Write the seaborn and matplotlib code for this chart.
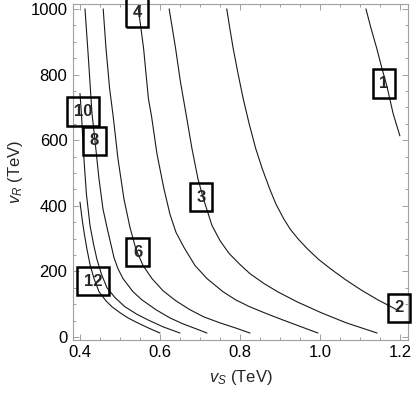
import numpy as np
import pandas as pd
import seaborn as sns
import matplotlib.pyplot as plt
from matplotlib.ticker import MultipleLocator

# Contour levels and the points (vS in TeV, vR in TeV)
levels = [1, 2, 3, 4, 6, 8, 10, 12]

vs_1 = [1.115, 1.1275, 1.142, 1.155, 1.167, 1.183, 1.2]
vr_1 = [1000, 942, 880, 819, 767, 681, 613]

vs_2 = [0.767, 0.7745, 0.783, 0.795, 0.808, 0.823, 0.8395, 0.856, 0.8745, 0.890,
        0.910, 0.926, 0.946, 0.970, 0.997, 1.0285, 1.0635, 1.102, 1.145, 1.2]
vr_2 = [1000, 942, 880, 804, 727, 650, 574, 512, 451, 405,
        359, 328, 298, 267, 236, 206, 175, 144, 113, 78]

vs_3 = [0.623, 0.639, 0.651, 0.665, 0.68, 0.695, 0.709, 0.73, 0.75, 0.7725, 0.8,
        0.825, 0.86, 0.894, 0.943, 1.003, 1.066, 1.143]
vr_3 = [1000, 880, 779, 681, 574, 482, 420, 340, 294, 255, 221,
        193, 163, 138, 107, 74, 43, 12]

vs_4 = [0.546, 0.559, 0.571, 0.579, 0.5925, 0.61, 0.625, 0.64, 0.66, 0.6875,
        0.7175, 0.7575, 0.7895, 0.8245, 0.8665, 0.907, 0.995]
vr_4 = [1000, 880, 727, 672, 558, 451, 374, 319, 273, 218,
        178, 138, 113, 92, 71, 52, 12]

vs_6 = [0.458, 0.465, 0.474, 0.483, 0.495, 0.51, 0.525, 0.54, 0.5575, 0.58,
        0.6075, 0.64, 0.675, 0.71, 0.75, 0.79, 0.825]
vr_6 = [1000, 880, 758, 672, 543, 420, 334, 267, 218, 178,
        141, 110, 83, 61, 43, 27, 12]

vs_8 = [0.4125, 0.421, 0.43, 0.4375, 0.4475, 0.4575, 0.4675, 0.485, 0.495, 0.5075,
        0.5325, 0.555, 0.59, 0.625, 0.6575, 0.69, 0.7175]
vr_8 = [1000, 850, 681, 598, 482, 390, 334, 242, 208, 178,
        138, 113, 83, 58, 40, 25, 12]

vs_10 = [0.4, 0.404, 0.409, 0.416, 0.425, 0.434, 0.4425, 0.454, 0.4675, 0.4875,
         0.5125, 0.5425, 0.57, 0.6075, 0.65]
vr_10 = [742, 672, 558, 436, 340, 282, 236, 190, 150, 120,
         92, 69, 52, 31, 12]

vs_12 = [0.4, 0.406, 0.411, 0.4175, 0.425, 0.435, 0.4475, 0.465, 0.48, 0.5,
         0.52, 0.5425, 0.57, 0.6]
vr_12 = [411, 353, 313, 267, 221, 178, 138, 110, 92, 74,
         58, 44, 28, 12]

# Label positions (data coordinates)
label_vs = [1.16, 1.1975, 0.7025, 0.5425, 0.544, 0.436, 0.4075, 0.4325]
label_vr = [773, 89, 426, 988, 258, 598, 687, 170]

curves = {1: (vs_1, vr_1), 2: (vs_2, vr_2), 3: (vs_3, vr_3), 4: (vs_4, vr_4),
          6: (vs_6, vr_6), 8: (vs_8, vr_8), 10: (vs_10, vr_10), 12: (vs_12, vr_12)}

rows = []
for lev, (xs, ys) in curves.items():
    for x, y in zip(xs, ys):
        rows.append({"level": lev, "vS": x, "vR": y})
df = pd.DataFrame(rows)

sns.set_style("ticks")
plt.rcParams['font.family'] = ['Liberation Sans', 'DejaVu Sans']
plt.rcParams['mathtext.fontset'] = 'custom'
plt.rcParams['mathtext.it'] = 'Liberation Sans:italic'
plt.rcParams['mathtext.rm'] = 'Liberation Sans'

fig = plt.figure(figsize=(4.15, 3.93), dpi=100)
ax = fig.add_axes([0.1759, 0.1359, 0.807, 0.854])

sns.lineplot(data=df, x="vS", y="vR", units="level", estimator=None, sort=False,
             color="#1a1a1a", linewidth=0.8, ax=ax)

for lev, x, y in zip(levels, label_vs, label_vr):
    ax.text(x, y, str(lev), ha="center", va="center", fontsize=12, fontweight="bold",
            zorder=5, clip_on=False,
            bbox=dict(boxstyle="square,pad=0.4", fc="none", ec="black", lw=1.8))

ax.set_xlim(0.3825, 1.22)
ax.set_ylim(-8, 1015)

ax.xaxis.set_major_locator(MultipleLocator(0.2))
ax.xaxis.set_minor_locator(MultipleLocator(0.05))
ax.yaxis.set_major_locator(MultipleLocator(200))
ax.yaxis.set_minor_locator(MultipleLocator(50))
ax.xaxis.set_major_formatter(plt.FuncFormatter(lambda v, p: f"{v:.1f}"))

frame_col = "#a0a0a0"
for s in ax.spines.values():
    s.set_color(frame_col)
    s.set_linewidth(0.8)
ax.tick_params(which="both", direction="in", top=True, right=True, color=frame_col,
               labelsize=12, labelcolor="black", width=0.7)
ax.tick_params(which="major", length=4.2, pad=4)
ax.tick_params(which="minor", length=2.3)

ax.set_xlabel(r"$v_S$ (TeV)", fontsize=12, labelpad=6)
ax.set_ylabel(r"$v_R$ (TeV)", fontsize=12, labelpad=4)

fig.savefig("out.png", dpi=100)
plt.close()
